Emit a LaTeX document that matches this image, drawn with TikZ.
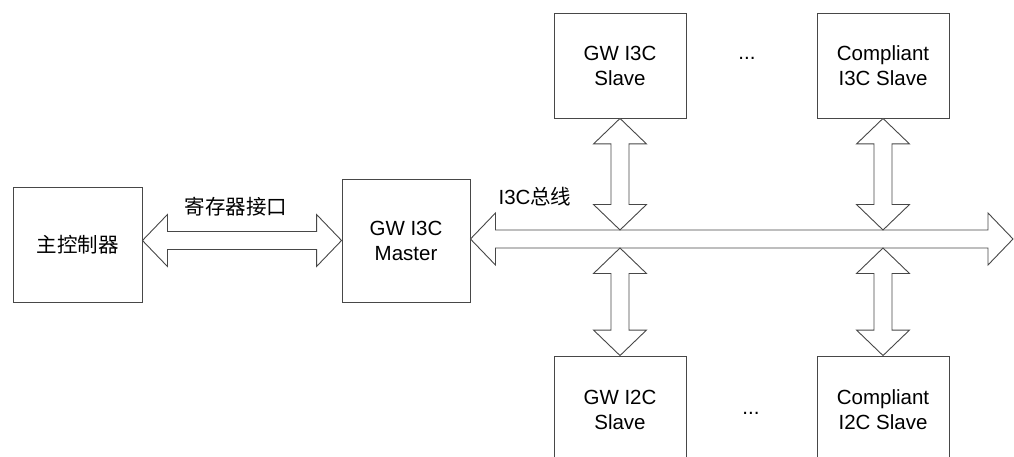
\documentclass[tikz,border=0pt]{standalone}
\usepackage{fontspec}
\setmainfont{Liberation Sans}
\newfontfamily\cjk{Noto Sans CJK SC}
\usetikzlibrary{calc}

\tikzset{
  blk/.style={draw=black!72, line width=0.9pt, fill=white, inner sep=0pt,
              align=center, font=\fontsize{20.5}{25}\selectfont},
  fat/.style={draw=black!72, line width=0.9pt, fill=white, line join=miter},
  lbl/.style={inner sep=0pt, font=\fontsize{20.5}{25}\selectfont}
}

% horizontal double block arrow between two tips (left, right)
\newcommand{\hfat}[2]{%
  \draw[fat] (#1) -- ([shift={(25,-26)}]#1) -- ([shift={(25,-9)}]#1)
    -- ([shift={(-25,-9)}]#2) -- ([shift={(-25,-26)}]#2) -- (#2)
    -- ([shift={(-25,26)}]#2) -- ([shift={(-25,9)}]#2)
    -- ([shift={(25,9)}]#1) -- ([shift={(25,26)}]#1) -- cycle;}

% vertical double block arrow between two tips (upper, lower)
\newcommand{\vfat}[2]{%
  \draw[fat] (#1) -- ([shift={(26.5,25.5)}]#1) -- ([shift={(9,25.5)}]#1)
    -- ([shift={(9,-25.5)}]#2) -- ([shift={(26.5,-25.5)}]#2) -- (#2)
    -- ([shift={(-26.5,-25.5)}]#2) -- ([shift={(-9,-25.5)}]#2)
    -- ([shift={(-9,25.5)}]#1) -- ([shift={(-26.5,25.5)}]#1) -- cycle;}

\begin{document}
\begin{tikzpicture}[x=1pt, y=-1pt]
  \useasboundingbox (0,0) rectangle (1014,457);
  \clip (0,0) rectangle (1014,457);

  % blocks
  \node[blk, minimum width=129pt, minimum height=115pt] (ctrl) at (77.5,244.5) {\cjk 主控制器};
  \node[blk, minimum width=128pt, minimum height=123pt] (mst) at (406,240.5) {GW I3C\\Master};
  \node[blk, minimum width=132pt, minimum height=105pt] (s3a) at (620,65.5) {GW I3C\\Slave};
  \node[blk, minimum width=132pt, minimum height=105pt] (s3b) at (883,65.5) {Compliant\\I3C Slave};
  \node[blk, minimum width=132pt, minimum height=108pt] (s2a) at (620,410) {GW I2C\\Slave};
  \node[blk, minimum width=132pt, minimum height=108pt] (s2b) at (883,410) {Compliant\\I2C Slave};

  \node[lbl, anchor=base] (dtop) at (747,60) {...};
  \node[lbl, anchor=base] (dbot) at (751,414) {...};

  % bus geometry
  \coordinate (busend) at (1013,239);
  \coordinate (busT) at (0,230);
  \coordinate (busB) at (0,248);

  % register interface
  \hfat{ctrl.east |- mst.east}{mst.west}
  \node[lbl] (reglbl) at (236,207) {\cjk 寄存器接口};

  % I3C bus
  \hfat{mst.east |- busend}{busend}
  \node[lbl] (buslbl) at (535,197) {I3C{\cjk 总线}};

  % slave taps
  \vfat{s3a.south}{s3a.south |- busT}
  \vfat{s3b.south}{s3b.south |- busT}
  \vfat{s2a.north |- busB}{s2a.north}
  \vfat{s2b.north |- busB}{s2b.north}
\end{tikzpicture}
\end{document}
